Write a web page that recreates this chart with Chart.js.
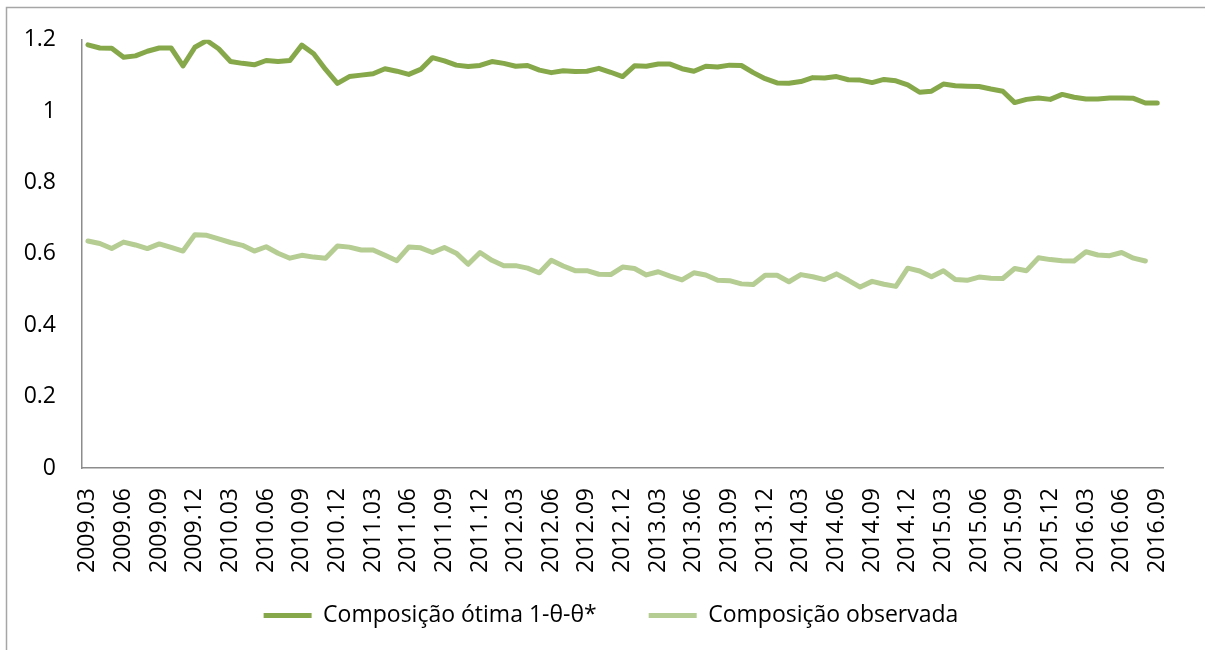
<!DOCTYPE html>
<html>
<head>
<meta charset="utf-8">
<script src="https://cdn.jsdelivr.net/npm/chart.js@4"></script>
<style>
html,body{margin:0;padding:0;background:#fff;}
#wrap{position:relative;width:1205px;height:650px;}
</style>
</head>
<body>
<div id="wrap"><canvas id="c" width="1205" height="650"></canvas></div>
<script>
const categories = [
"2009.03","2009.04","2009.05","2009.06","2009.07","2009.08","2009.09","2009.10","2009.11","2009.12",
"2010.01","2010.02","2010.03","2010.04","2010.05","2010.06","2010.07","2010.08","2010.09","2010.10","2010.11","2010.12",
"2011.01","2011.02","2011.03","2011.04","2011.05","2011.06","2011.07","2011.08","2011.09","2011.10","2011.11","2011.12",
"2012.01","2012.02","2012.03","2012.04","2012.05","2012.06","2012.07","2012.08","2012.09","2012.10","2012.11","2012.12",
"2013.01","2013.02","2013.03","2013.04","2013.05","2013.06","2013.07","2013.08","2013.09","2013.10","2013.11","2013.12",
"2014.01","2014.02","2014.03","2014.04","2014.05","2014.06","2014.07","2014.08","2014.09","2014.10","2014.11","2014.12",
"2015.01","2015.02","2015.03","2015.04","2015.05","2015.06","2015.07","2015.08","2015.09","2015.10","2015.11","2015.12",
"2016.01","2016.02","2016.03","2016.04","2016.05","2016.06","2016.07","2016.08","2016.09"
];

const otima = [
1.186,1.177,1.176,1.151,1.155,1.168,1.177,1.177,1.127,1.179,1.198,1.175,1.139,1.134,1.130,1.142,1.139,1.142,1.185,1.161,1.117,1.078,1.097,1.101,1.105,1.119,1.112,1.103,1.117,1.150,1.141,
1.129,1.125,1.128,1.139,1.134,1.126,1.128,1.115,1.108,1.113,1.111,1.112,1.120,1.109,1.097,1.127,1.126,1.132,1.132,1.119,1.112,1.126,1.124,1.129,1.128,1.108,1.091,1.079,1.078,1.083,
1.094,1.093,1.097,1.088,1.087,1.080,1.089,1.085,1.074,1.053,1.056,1.076,1.071,1.070,1.069,1.062,1.056,1.024,1.033,1.037,1.033,1.047,1.039,1.034,1.034,1.037,1.037,1.036,1.023,1.023
];

const observada = [
0.636,0.629,0.615,0.633,0.625,0.615,0.628,0.618,0.608,0.654,0.652,0.642,0.632,0.624,0.608,0.620,0.602,0.588,0.596,0.591,0.588,0.622,0.619,0.611,0.611,0.596,0.581,0.619,0.617,0.604,0.618,
0.602,0.571,0.604,0.582,0.567,0.567,0.560,0.547,0.582,0.566,0.553,0.553,0.543,0.542,0.563,0.559,0.541,0.550,0.538,0.527,0.547,0.541,0.526,0.525,0.516,0.514,0.540,0.540,0.522,0.542,
0.536,0.528,0.544,0.526,0.507,0.523,0.515,0.509,0.560,0.552,0.536,0.553,0.528,0.526,0.535,0.532,0.531,0.559,0.553,0.589,0.584,0.581,0.580,0.606,0.597,0.595,0.604,0.588,0.580,null
];

const seriesNames = ["Composição ótima 1-θ-θ*", "Composição observada"];
const yTicks = [0, 0.2, 0.4, 0.6, 0.8, 1, 1.2];

const FONT = "'Open Sans', 'Liberation Sans', sans-serif";
Chart.defaults.font.family = FONT;
Chart.defaults.color = '#000';

const frame = {
  id: 'frame',
  afterLayout(chart) {
    // widen label clip boxes so rotated / left labels are not cut
    chart.scales.y.left = 0;
    chart.scales.x.bottom = chart.height;
  },
  beforeDraw(chart) {
    const ctx = chart.ctx;
    ctx.save();
    ctx.fillStyle = '#fff';
    ctx.fillRect(0, 0, chart.width, chart.height);
    ctx.strokeStyle = '#a6a6a6';
    ctx.lineWidth = 1.5;
    ctx.strokeRect(6.5, 7.5, chart.width + 20, chart.height + 20);
    ctx.restore();
  }
};

new Chart(document.getElementById('c'), {
  type: 'line',
  data: {
    labels: categories,
    datasets: [
      {label: seriesNames[0], data: otima, borderColor: '#86A84A', backgroundColor: '#86A84A',
       borderWidth: 5, pointRadius: 0, tension: 0, borderCapStyle: 'round', borderJoinStyle: 'round'},
      {label: seriesNames[1], data: observada, borderColor: '#B5CC92', backgroundColor: '#B5CC92',
       borderWidth: 5, pointRadius: 0, tension: 0, borderCapStyle: 'round', borderJoinStyle: 'round'}
    ]
  },
  options: {
    responsive: false,
    animation: false,
    events: [],
    layout: {padding: {left: 44, right: 27, top: 37, bottom: 13}},
    plugins: {
      tooltip: {enabled: false},
      legend: {
        position: 'bottom',
        labels: {
          font: {size: 23, family: FONT},
          color: '#000',
          boxWidth: 48,
          boxHeight: 5,
          padding: 52,
          generateLabels(chart) {
            return chart.data.datasets.map((d, i) => ({
              text: d.label, fillStyle: d.borderColor, strokeStyle: d.borderColor,
              lineWidth: 0, hidden: false, datasetIndex: i, fontColor: '#000'
            }));
          }
        }
      }
    },
    scales: {
      x: {
        type: 'category',
        offset: true,
        grid: {display: false, drawTicks: false},
        border: {display: true, color: '#8c8c8c', width: 1.5},
        ticks: {
          autoSkip: false, minRotation: 90, maxRotation: 90, padding: 20,
          font: {size: 23, family: FONT}, color: '#000',
          callback: (v, i) => (i % 3 === 0 ? categories[i] : '')
        },
        afterFit(scale) { scale.height = 84; }
      },
      y: {
        min: 0, max: 1.2,
        grid: {display: false, drawTicks: false},
        border: {display: true, color: '#8c8c8c', width: 1.5},
        afterBuildTicks(scale) { scale.ticks = yTicks.map(v => ({value: v})); },
        ticks: {
          padding: 26,
          font: {size: 23, family: FONT}, color: '#000',
          callback: (v) => String(+v.toFixed(1))
        },
        afterFit(scale) { scale.width = 38; }
      }
    }
  },
  plugins: [frame]
});
</script>
</body>
</html>
